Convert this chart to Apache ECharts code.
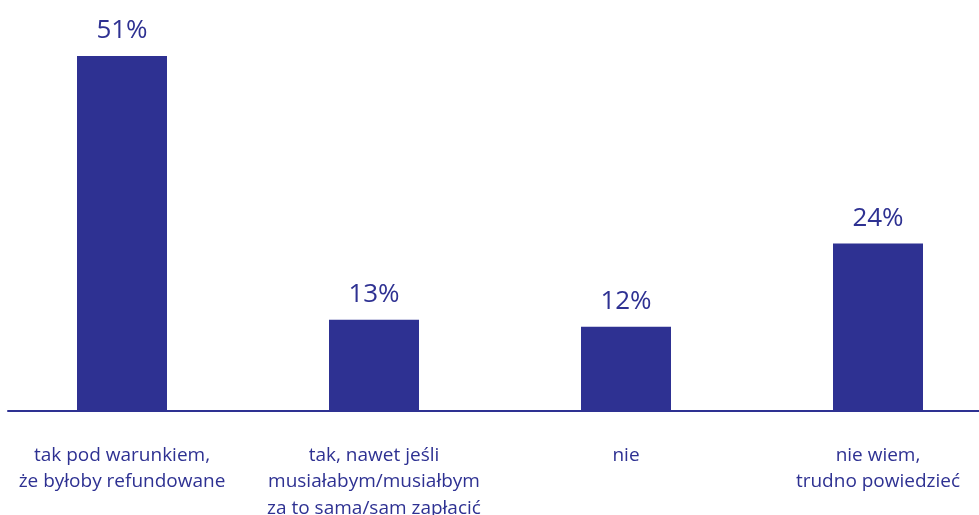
<!DOCTYPE html>
<html>
<head>
<meta charset="utf-8">
<script src="https://cdn.jsdelivr.net/npm/echarts@6/dist/echarts.min.js"></script>
<style>
  html, body { margin: 0; padding: 0; background: #ffffff; }
  #chart { width: 979px; height: 515px; }
</style>
</head>
<body>
<div id="chart"></div>
<script>
// Answer categories (multi-line labels) and shares in percent
const categories = [
  'tak pod warunkiem,\nże byłoby refundowane',
  'tak, nawet jeśli\nmusiałabym/musiałbym\nza to sama/sam zapłacić',
  'nie',
  'nie wiem,\ntrudno powiedzieć'
];
const shares = [51, 13, 12, 24];

const navy = '#2e3192';
const fontFamily = '"Open Sans", "Noto Sans", sans-serif';

const chart = echarts.init(document.getElementById('chart'), null, { renderer: 'canvas' });

chart.setOption({
  animation: false,
  backgroundColor: '#ffffff',
  grid: [
    // plot area for the bars (slightly wider than the page)
    { left: -4, width: 1008, top: 56, bottom: 105, containLabel: false, outerBoundsMode: 'none' },
    // baseline rule running across the page
    { left: 8, right: 0, top: 56, bottom: 104, containLabel: false, outerBoundsMode: 'none' }
  ],
  xAxis: [
    {
      type: 'category',
      gridIndex: 0,
      data: categories,
      axisLine: { show: false },
      axisTick: { show: false },
      axisLabel: {
        color: navy,
        fontFamily: fontFamily,
        fontSize: 19,
        lineHeight: 26.5,
        margin: 32,
        interval: 0
      }
    },
    {
      type: 'value',
      gridIndex: 1,
      min: 0,
      max: 1,
      axisLine: { show: true, onZero: false, lineStyle: { color: navy, width: 2 } },
      axisTick: { show: false },
      axisLabel: { show: false },
      splitLine: { show: false }
    }
  ],
  yAxis: [
    { type: 'value', gridIndex: 0, min: 0, max: 51, show: false, splitLine: { show: false } },
    { type: 'value', gridIndex: 1, min: 0, max: 1, show: false, splitLine: { show: false } }
  ],
  series: [
    {
      type: 'bar',
      xAxisIndex: 0,
      yAxisIndex: 0,
      data: shares,
      barWidth: 90,
      itemStyle: { color: navy },
      label: {
        show: true,
        position: 'top',
        distance: 12,
        color: navy,
        fontFamily: fontFamily,
        fontSize: 26,
        formatter: p => p.value + '%'
      }
    }
  ]
});
</script>
</body>
</html>
